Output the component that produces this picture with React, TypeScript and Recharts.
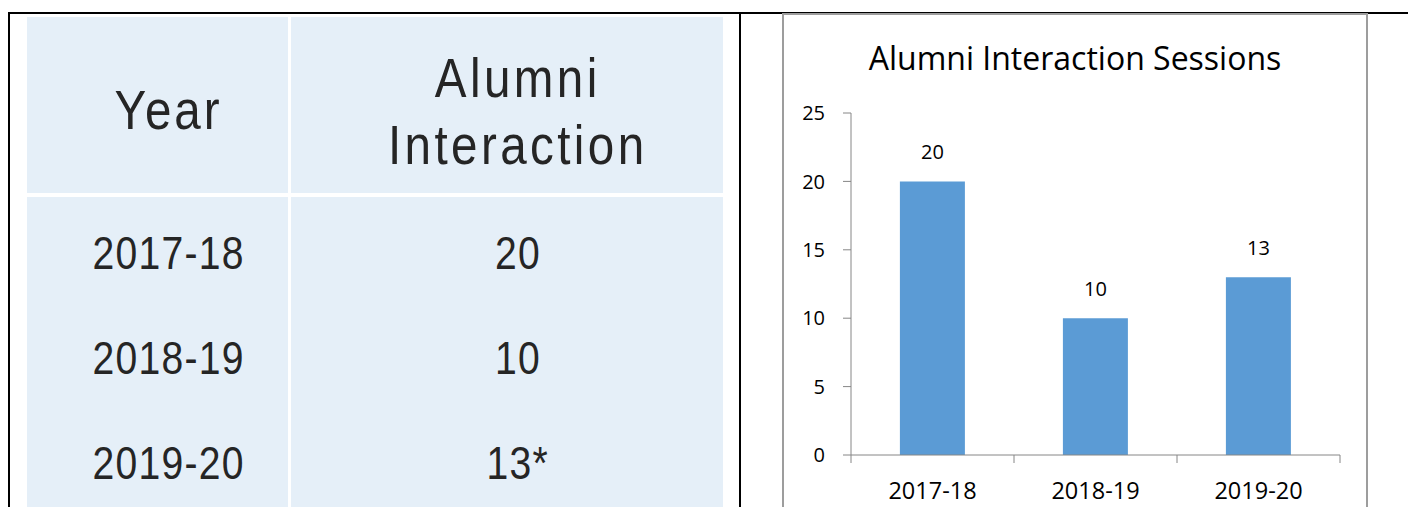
import { Bar, BarChart, LabelList, XAxis, YAxis } from "recharts";

const years = ["2017-18", "2018-19", "2019-20"];
const sessions = [20, 10, 13];
const tableCounts = ["20", "10", "13*"];
const yTicks = [0, 5, 10, 15, 20, 25];

const data = years.map((year, i) => ({ year, sessions: sessions[i] }));

const AXIS = "#868686";
const CELL = "#E5EFF8";
const CHART_FONT = "'Open Sans', sans-serif";
const TABLE_FONT = "'Liberation Sans', Arial, sans-serif";

const X_TICK = 8;
const X_MARGIN = 19;

function YearTick(props: any) {
	const { x, y, payload, index, visibleTicksCount } = props;
	const half = payload.offset ?? 0;
	const axisY = y - X_TICK - X_MARGIN;
	const last = index === visibleTicksCount - 1;
	return (
		<g>
			<line x1={x - half} x2={x - half} y1={axisY} y2={axisY + X_TICK} stroke={AXIS} />
			{last && (
				<line x1={x + half} x2={x + half} y1={axisY} y2={axisY + X_TICK} stroke={AXIS} />
			)}
			<text
				x={x}
				y={y}
				dy="0.71em"
				textAnchor="middle"
				fontSize={23.5}
				fontFamily={CHART_FONT}
				fill="#000"
			>
				{payload.value}
			</text>
		</g>
	);
}

function abs(left: number, top: number, width: number, height: number, extra = {}) {
	return { position: "absolute" as const, left, top, width, height, ...extra };
}

const cellText = {
	display: "flex",
	alignItems: "center",
	justifyContent: "center",
	boxSizing: "border-box" as const,
	paddingLeft: 22,
	fontFamily: TABLE_FONT,
	color: "#252525",
	textAlign: "center" as const,
};

// the table's DIN-like face is narrower than anything installed
const narrow = { display: "inline-block", transform: "scaleX(0.85)" };

export default function App() {
	return (
		<div
			style={{
				position: "relative",
				width: 1416,
				height: 515,
				margin: -8,
				overflow: "hidden",
				background: "#fff",
			}}
		>
			{/* page frame */}
			<div style={abs(0, 0, 1, 515, { background: "#000" })} />
			<div style={abs(8, 12, 2, 503, { background: "#000" })} />
			<div style={abs(8, 12, 1408, 2, { background: "#000" })} />
			<div style={abs(739, 12, 2, 503, { background: "#000" })} />

			{/* table */}
			<div style={abs(27, 17, 261, 176, { background: CELL })} />
			<div style={abs(291, 17, 432, 176, { background: CELL })} />
			<div style={abs(27, 197, 261, 318, { background: CELL })} />
			<div style={abs(291, 197, 432, 318, { background: CELL })} />
			<div style={abs(27, 21, 261, 176, { ...cellText, fontSize: 56, letterSpacing: 3.5 })}>
				<span style={narrow}>Year</span>
			</div>
			<div
				style={abs(291, 23, 432, 176, {
					...cellText,
					fontSize: 56,
					letterSpacing: 4,
					lineHeight: "67px",
				})}
			>
				<span style={narrow}>
					Alumni
					<br />
					Interaction
				</span>
			</div>
			{years.map((y, i) => (
				<div key={y}>
					<div style={abs(27, 203 + i * 105, 261, 100, { ...cellText, fontSize: 46, letterSpacing: 1.5 })}>
						<span style={narrow}>{y}</span>
					</div>
					<div style={abs(291, 203 + i * 105, 432, 100, { ...cellText, fontSize: 46, letterSpacing: 1.5 })}>
						<span style={narrow}>{tableCounts[i]}</span>
					</div>
				</div>
			))}

			{/* chart */}
			<div style={abs(782, 13, 582, 510, { border: "2px solid #9d9d9d" })} />
			<div
				style={abs(782, 38, 586, 40, {
					textAlign: "center",
					fontFamily: CHART_FONT,
					fontSize: 32,
					lineHeight: "40px",
					color: "#000",
				})}
			>
				Alumni Interaction Sessions
			</div>
			<div style={abs(782, 15, 586, 500)}>
				<BarChart
					width={586}
					height={500}
					data={data}
					margin={{ top: 98, right: 28, bottom: 0, left: 0 }}
					barCategoryGap="30%"
				>
					<XAxis
						dataKey="year"
						height={60}
						axisLine={{ stroke: AXIS }}
						tickLine={false}
						tickSize={X_TICK}
						tickMargin={X_MARGIN}
						tick={<YearTick />}
						interval={0}
					/>
					<YAxis
						width={69}
						domain={[0, 25]}
						ticks={yTicks}
						axisLine={{ stroke: AXIS }}
						tickLine={{ stroke: AXIS }}
						tickSize={8}
						tickMargin={18}
						tick={{ fontSize: 20, fontFamily: CHART_FONT, fill: "#000" }}
					/>
					<Bar dataKey="sessions" fill="#5B9BD5" isAnimationActive={false}>
						<LabelList
							dataKey="sessions"
							position="top"
							offset={22}
							fontSize={20}
							fontFamily={CHART_FONT}
							fill="#000"
						/>
					</Bar>
				</BarChart>
			</div>
		</div>
	);
}
